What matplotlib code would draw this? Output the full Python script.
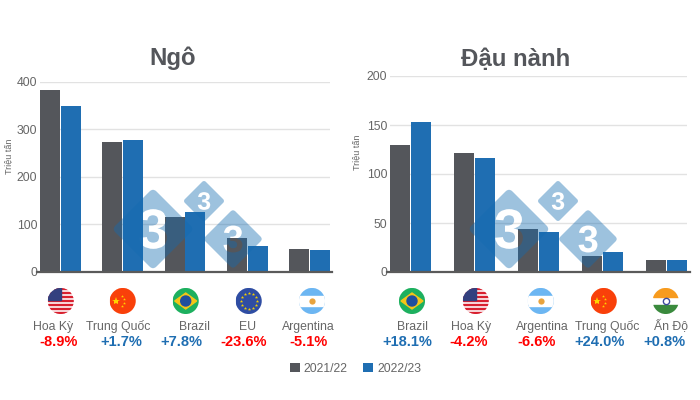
import numpy as np
import matplotlib
matplotlib.use('Agg')
import matplotlib.pyplot as plt
from matplotlib.patches import Circle, Rectangle, Polygon, PathPatch
from matplotlib.path import Path
from matplotlib.textpath import TextPath
from matplotlib.font_manager import FontProperties

plt.rcParams['font.family'] = ['Liberation Sans', 'DejaVu Sans']

# data, million tonnes
corn_names = ['Hoa Kỳ', 'Trung Quốc', 'Brazil', 'EU', 'Argentina']
corn_2122 = [383, 272, 116, 70.5, 49]
corn_2223 = [349, 277, 125, 54, 46.5]
corn_pct = ['-8.9%', '+1.7%', '+7.8%', '-23.6%', '-5.1%']
corn_flags = ['us', 'cn', 'br', 'eu', 'ar']

soy_names = ['Brazil', 'Hoa Kỳ', 'Argentina', 'Trung Quốc', 'Ấn Độ']
soy_2122 = [129.5, 121.5, 44, 16.4, 11.9]
soy_2223 = [153, 116.4, 41, 20.3, 12]
soy_pct = ['+18.1%', '-4.2%', '-6.6%', '+24.0%', '+0.8%']
soy_flags = ['br', 'us', 'ar', 'cn', 'in']

GRAY = '#54565b'
BLUE = '#1f6eb2'
TXT = '#666666'
RED = '#ff0000'
W, H = 700, 400


def px_axes(fig, x0, x1, ytop, ybot):
    return fig.add_axes([x0 / W, 1 - ybot / H, (x1 - x0) / W, (ybot - ytop) / H])


def draw_bars(ax, a, b, ymax, step, yticks):
    x = np.arange(len(a))
    bw = 20 / step
    h1 = ax.bar(x, a, bw, align='edge', color=GRAY, label='2021/22', zorder=2)
    h2 = ax.bar(x + 21 / step, b, bw, align='edge', color=BLUE, label='2022/23', zorder=2)
    ax.set_xlim(0, 4 + 41 / step)
    ax.set_ylim(0, ymax)
    ax.set_yticks(yticks)
    ax.set_xticks([])
    ax.tick_params(axis='y', length=0, pad=2, labelsize=8.8, labelcolor=TXT)
    ax.grid(axis='y', color='#e2e2e2', lw=1, zorder=0)
    for s in ax.spines.values():
        s.set_visible(False)
    return h1, h2


def flag(ax, kind, cx, cy, r=13):
    clip = Circle((cx, cy), r, transform=ax.transData)
    parts = []
    if kind == 'us':
        parts.append(Rectangle((cx - r, cy - r), 2 * r, 2 * r, color='white'))
        for i in range(7):
            parts.append(Rectangle((cx - r, cy - r + i * 2 * r / 6.5), 2 * r, r / 9, color='#d8202f'))
        parts.append(Rectangle((cx - r, cy - r), r * 1.05, r * 0.95, color='#33407f'))
    elif kind == 'cn':
        parts.append(Rectangle((cx - r, cy - r), 2 * r, 2 * r, color='#f9400a'))
    elif kind == 'br':
        parts.append(Rectangle((cx - r, cy - r), 2 * r, 2 * r, color='#1db05f'))
        parts.append(Polygon([(cx - r + 2, cy), (cx, cy - r + 5), (cx + r - 2, cy), (cx, cy + r - 5)], color='#f5c518'))
        parts.append(Circle((cx, cy), 5, color='#1f4f9e'))
    elif kind == 'eu':
        parts.append(Rectangle((cx - r, cy - r), 2 * r, 2 * r, color='#2f4da3'))
    elif kind == 'ar':
        parts.append(Rectangle((cx - r, cy - r), 2 * r, 2 * r, color='#6cb6f2'))
        parts.append(Rectangle((cx - r, cy - r / 3 - 1), 2 * r, 2 * r / 3 + 2, color='white'))
    elif kind == 'in':
        parts.append(Rectangle((cx - r, cy - r), 2 * r, 2 * r, color='white'))
        parts.append(Rectangle((cx - r, cy - r), 2 * r, r * 0.7, color='#f79b1e'))
        parts.append(Rectangle((cx - r, cy + r * 0.3), 2 * r, r * 0.7, color='#3a8a3d'))
    for p in parts:
        ax.add_patch(p)
        p.set_clip_path(clip)
    # small marks on top
    if kind == 'cn':
        ax.plot(cx - 7, cy, marker='*', ms=6, color='#ffd400', mew=0)
        ax.plot([cx - 1, cx + 1, cx + 1, cx - 1], [cy - 5, cy - 2, cy + 2, cy + 5], ls='', marker='*', ms=2.2, color='#ffd400', mew=0)
    elif kind == 'eu':
        t = np.linspace(0, 2 * np.pi, 12, endpoint=False)
        ax.plot(cx + 8 * np.cos(t), cy + 8 * np.sin(t), ls='', marker='*', ms=2.5, color='#f5d000', mew=0)
    elif kind == 'ar':
        ax.plot(cx, cy, marker='o', ms=4.5, color='#e8a33d', mew=0)
    elif kind == 'in':
        ax.plot(cx, cy, marker='o', ms=4.5, mfc='none', mec='#3b4a9c', mew=1)


def diamond(ax, cx, cy, r, size):
    # rounded diamond with the 3 cut out of it
    c = 0.12 * r
    pts = [(0, -r), (-r, 0), (0, r), (r, 0)]
    verts, codes = [], []
    for i in range(4):
        p, q = np.array(pts[i]), np.array(pts[(i + 1) % 4])
        d = (q - p) / np.hypot(*(q - p))
        verts += [p + d * c, q - d * c, q]
        codes += [Path.MOVETO if i == 0 else Path.LINETO, Path.LINETO, Path.CURVE3]
        n = np.array(pts[(i + 2) % 4])
        d2 = (n - q) / np.hypot(*(n - q))
        verts.append(q + d2 * c)
        codes.append(Path.CURVE3)
    verts.append(verts[0])
    codes.append(Path.CLOSEPOLY)
    outer = Path(np.array(verts) + [cx, cy], codes)
    tp = TextPath((0, 0), '3', size=size, prop=FontProperties(family='Liberation Sans', weight='bold'))
    bb = tp.get_extents()
    tv = tp.vertices.copy()
    tv[:, 0] = cx + tv[:, 0] - (bb.x0 + bb.x1) / 2
    tv[:, 1] = cy - (tv[:, 1] - (bb.y0 + bb.y1) / 2)
    comp = Path.make_compound_path(outer, Path(tv, tp.codes))
    ax.add_patch(PathPatch(comp, fc='#136bb1', ec='none', alpha=0.41, zorder=5))


fig = plt.figure(figsize=(7, 4), dpi=100)

ax1 = px_axes(fig, 40, 330, 81.5, 272)
hs = draw_bars(ax1, corn_2122, corn_2223, 400, 62.3, [0, 100, 200, 300, 400])
ax2 = px_axes(fig, 390, 687, 76, 272)
draw_bars(ax2, soy_2122, soy_2223, 200, 63.75, [0, 50, 100, 150, 200])

# overlay in pixel coordinates for everything that sits outside the plots
ov = fig.add_axes([0, 0, 1, 1])
ov.set_xlim(0, W)
ov.set_ylim(H, 0)
ov.axis('off')
ov.patch.set_alpha(0)

ov.text(173, 65.5, 'Ngô', fontsize=17.3, fontweight='bold', color=GRAY, ha='center', va='baseline')
ov.text(516, 65.5, 'Đậu nành', fontsize=17.3, fontweight='bold', color=GRAY, ha='center', va='baseline')
ov.text(9, 156, 'Triệu tấn', fontsize=6.5, color=TXT, rotation=90, ha='center', va='center')
ov.text(357, 152, 'Triệu tấn', fontsize=6.5, color=TXT, rotation=90, ha='center', va='center')

ov.plot([37, 332], [272, 272], color='#5a5a5a', lw=1.6, zorder=6)
ov.plot([387, 690], [272, 272], color='#5a5a5a', lw=1.6, zorder=6)

for cx, cy, r, s in [(153, 229, 41, 56), (204, 201, 21, 25), (233, 239, 30, 38),
                     (509, 229, 41, 56), (558, 201, 21, 25), (588, 239, 30, 38)]:
    diamond(ov, cx, cy, r, s)

rows = [
    (corn_names, corn_pct, corn_flags,
     [60.7, 122.7, 185.7, 248.7, 312], [53, 118, 195, 248, 308], [59, 121, 181, 244, 309]),
    (soy_names, soy_pct, soy_flags,
     [412, 475.7, 540.7, 603.7, 665.7], [412, 471, 542, 607, 671], [407, 469, 537, 600, 664]),
]
for names, pct, flags, fx, lx, px in rows:
    for i in range(5):
        flag(ov, flags[i], fx[i], 301)
        ov.text(lx[i], 330, names[i], fontsize=8.8, color=TXT, ha='center', va='baseline')
        ov.text(px[i], 346, pct[i], fontsize=10.5, fontweight='bold', ha='center', va='baseline',
                color=RED if pct[i].startswith('-') else BLUE)

fig.legend(hs, ['2021/22', '2022/23'], loc='center', bbox_to_anchor=(355.5 / W, 1 - 368.5 / H), ncol=2,
           frameon=False, fontsize=8.8, labelcolor=TXT, handlelength=0.82, handleheight=0.82,
           handletextpad=0.33, columnspacing=1.3, borderpad=0)

fig.savefig('out.png', dpi=100)
